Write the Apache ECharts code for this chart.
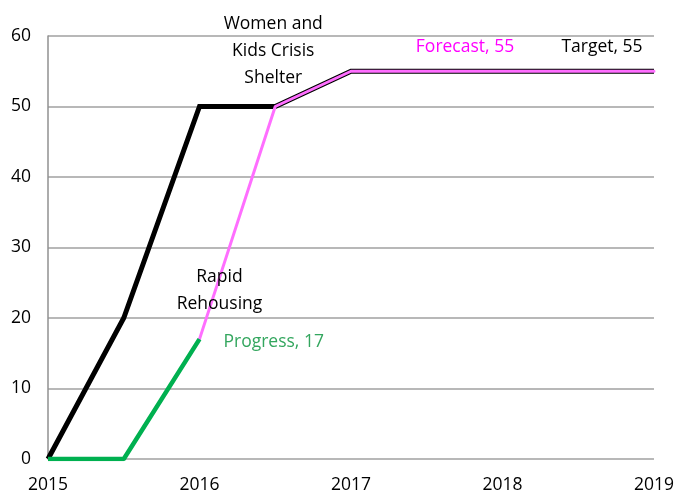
<!DOCTYPE html>
<html><head><meta charset="utf-8">
<script src="https://cdn.jsdelivr.net/npm/echarts@6/dist/echarts.min.js"></script>
<style>html,body{margin:0;padding:0;background:#fff}#c{width:677px;height:496px}</style>
</head><body><div id="c"></div>
<script>
const targetX = [2015, 2015.5, 2016, 2016.5, 2017, 2018, 2019];
const targetY = [0, 20, 50, 50, 55, 55, 55];
const forecastX = [2016, 2016.5, 2017, 2018, 2019];
const forecastY = [17, 50, 55, 55, 55];
const progressX = [2015, 2015.5, 2016];
const progressY = [0, 0, 17];
const xTicks = [2015, 2016, 2017, 2018, 2019];
const yTicks = [0, 10, 20, 30, 40, 50, 60];

const font = '"Open Sans", "Noto Sans", sans-serif';
const fs = 17.5;
function pts(xs, ys){ return xs.map((x,i)=>[x, ys[i]]); }

const tData = pts(targetX, targetY).map(v=>({value:v}));
tData[3].label = {show:true, position:'top', distance:15, formatter:'Women and\nKids Crisis\nShelter', color:'#000', fontSize:fs, lineHeight:27, fontFamily:font, align:'center', offset:[-2,0]};
tData[6].label = {show:true, position:'top', distance:15, formatter:'Target, 55', color:'#000', fontSize:fs, fontFamily:font, offset:[-52,0]};

const fData = pts(forecastX, forecastY).map(v=>({value:v}));
fData[0].label = {show:true, position:'top', distance:22, formatter:'Rapid\nRehousing', color:'#000', fontSize:fs, lineHeight:27, fontFamily:font, align:'center', offset:[20,0]};
fData[4].label = {show:true, position:'top', distance:15, formatter:'Forecast, 55', color:'#FF00FF', fontSize:fs, fontFamily:font, offset:[-189,0]};

const pData = pts(progressX, progressY).map(v=>({value:v}));
pData[2].label = {show:true, position:'right', distance:24, formatter:'Progress, 17', color:'#33A65E', fontSize:fs, fontFamily:font, offset:[0,3]};

const chart = echarts.init(document.getElementById('c'));
chart.setOption({
  animation:false,
  grid:{left:48, right:21, top:36, bottom:37},
  xAxis:{type:'value', min:2015, max:2019, interval:1,
    axisLine:{show:false}, axisTick:{show:false}, splitLine:{show:false},
    axisLabel:{color:'#000', fontSize:fs, fontFamily:font, margin:17, formatter:v=>String(v)}},
  yAxis:{type:'value', min:0, max:60, interval:10,
    axisLine:{show:true, lineStyle:{color:'#909090', width:1.5}}, axisTick:{show:false},
    splitLine:{show:true, lineStyle:{color:'#A0A0A0', width:1.5}},
    axisLabel:{color:'#000', fontSize:fs, fontFamily:font, margin:17}},
  series:[
    {type:'line', name:'Target', data:tData, symbol:'circle', symbolSize:0, showSymbol:true, lineStyle:{color:'#000', width:5, join:'miter'}, z:2},
    {type:'line', name:'Forecast', data:fData, symbol:'circle', symbolSize:0, showSymbol:true, lineStyle:{color:'#FF6EFF', width:3, cap:'round'}, z:3},
    {type:'line', name:'Progress', data:pData, symbol:'circle', symbolSize:0, showSymbol:true, lineStyle:{color:'#00B050', width:4.5}, z:4}
  ]
});
</script></body></html>
